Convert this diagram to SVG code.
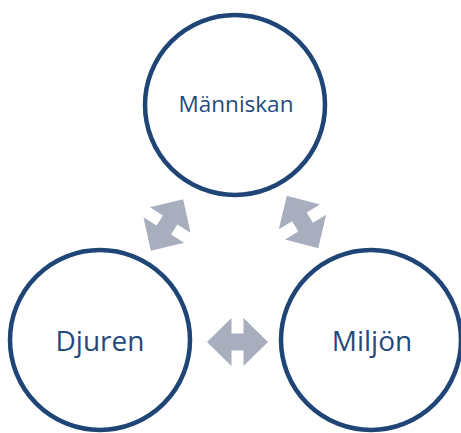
<svg xmlns="http://www.w3.org/2000/svg" width="461" height="433" viewBox="0 0 461 433">
<style>
.node circle{fill:#fff;stroke:#1F4576;stroke-width:4.5}
.node text{fill:#1F4A7E;font-family:"Open Sans","Noto Sans",sans-serif;text-anchor:middle}
.arr{fill:#A8AEBD}
</style>
<defs>
<path id="dbl" d="M-30.5,0 L-6,-24 L-6,-8.5 L6,-8.5 L6,-24 L30.5,0 L6,24 L6,8.5 L-6,8.5 L-6,24 Z"/>
</defs>
<rect width="461" height="433" fill="#fff"/>
<g id="connectors">
<use href="#dbl" class="arr" transform="translate(167,225) rotate(-58)"/>
<use href="#dbl" class="arr" transform="translate(302.5,222) rotate(59)"/>
<use href="#dbl" class="arr" transform="translate(237.5,342)"/>
</g>
<g id="manniskan" class="node">
<circle cx="235" cy="105" r="90"/>
<text x="236" y="112" font-size="22.5">Människan</text>
</g>
<g id="djuren" class="node">
<circle cx="100" cy="340" r="90"/>
<text x="100" y="351" font-size="28">Djuren</text>
</g>
<g id="miljon" class="node">
<circle cx="371" cy="340" r="90"/>
<text x="372" y="351" font-size="28">Miljön</text>
</g>
</svg>
